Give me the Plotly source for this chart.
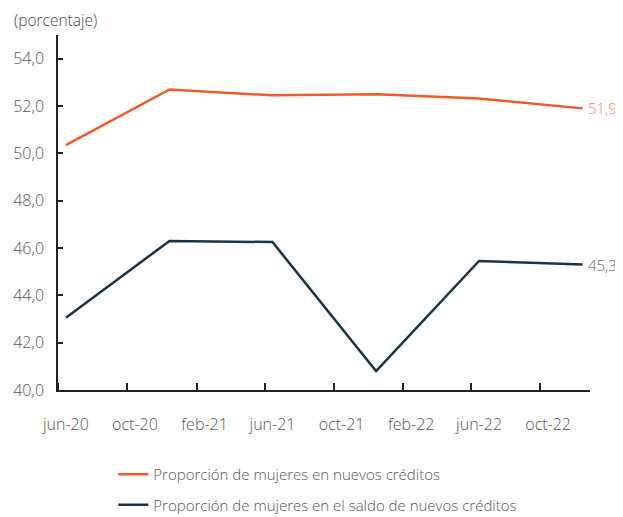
import plotly.graph_objects as go

dates = ["2020-06-15", "2020-12-15", "2021-06-15", "2021-12-15", "2022-06-15", "2022-12-15"]
nuevos = [50.35, 52.7, 52.45, 52.5, 52.32, 51.9]
saldo = [43.05, 46.3, 46.25, 40.8, 45.45, 45.3]

tick_vals = ["2020-06-15", "2020-10-15", "2021-02-15", "2021-06-15", "2021-10-15",
             "2022-02-15", "2022-06-15", "2022-10-15"]
tick_text = ["jun-20", "oct-20", "feb-21", "jun-21", "oct-21", "feb-22", "jun-22", "oct-22"]
y_ticks = [40, 42, 44, 46, 48, 50, 52, 54]

name1 = "Proporción de mujeres en nuevos créditos"
name2 = "Proporción de mujeres en el saldo de nuevos créditos"
c1 = "#F15A29"
c2 = "#1B3445"

fig = go.Figure()
fig.add_trace(go.Scatter(x=dates, y=nuevos, mode="lines", name=name1, legendgroup="a",
                         line=dict(color=c1, width=2.5)))
fig.add_trace(go.Scatter(x=dates, y=saldo, mode="lines", name=name2, legendgroup="b",
                         line=dict(color=c2, width=2.5)))

def fmt(v):
    return f"{v:.1f}".replace(".", ",")

fig.add_annotation(x=dates[-1], y=nuevos[-1], text=fmt(nuevos[-1]), showarrow=False,
                   xanchor="left", xshift=3, font=dict(color="#F5876A", size=15))
fig.add_annotation(x=dates[-1], y=saldo[-1], text=fmt(saldo[-1]), showarrow=False,
                   xanchor="left", xshift=3, font=dict(color="#5B6770", size=15))
fig.add_annotation(xref="paper", yref="paper", x=-0.0865, y=1.043, xanchor="left",
                   yanchor="middle", text="(porcentaje)", showarrow=False,
                   font=dict(color="#444444", size=15.5))

fig.update_layout(
    width=615, height=509,
    margin=dict(l=50, r=33, t=27, b=127, autoexpand=False),
    plot_bgcolor="white", paper_bgcolor="white",
    separators=",.",
    font=dict(family="Open Sans", size=16, color="#555555", weight=300),
    showlegend=True,
    legend=dict(orientation="v", x=0.104, y=-0.1915, xanchor="left", yanchor="top",
                font=dict(size=15, color="#555555"), itemwidth=30, tracegroupgap=8),
    xaxis=dict(type="date", range=["2020-06-01", "2022-12-28"], automargin=False,
               tickvals=tick_vals, ticktext=tick_text, ticks="", ticklen=0,
               ticklabelstandoff=19,
               showgrid=False, zeroline=False, showline=True, linecolor="#222222",
               linewidth=1.5,
               minor=dict(dtick="M4", tick0="2020-06-01", ticks="inside", ticklen=7,
                          tickcolor="#222222", tickwidth=1.5, showgrid=False),
               tickfont=dict(size=16, color="#555555")),
    yaxis=dict(range=[40, 55], tickvals=y_ticks, tickformat=".1f", automargin=False,
               ticks="inside", ticklen=5, tickcolor="#222222", tickwidth=1.5,
               ticklabelstandoff=9,
               showgrid=False, zeroline=False, showline=True, linecolor="#222222",
               linewidth=1.5, tickfont=dict(size=16, color="#555555")),
)

fig.write_html("out.html")
